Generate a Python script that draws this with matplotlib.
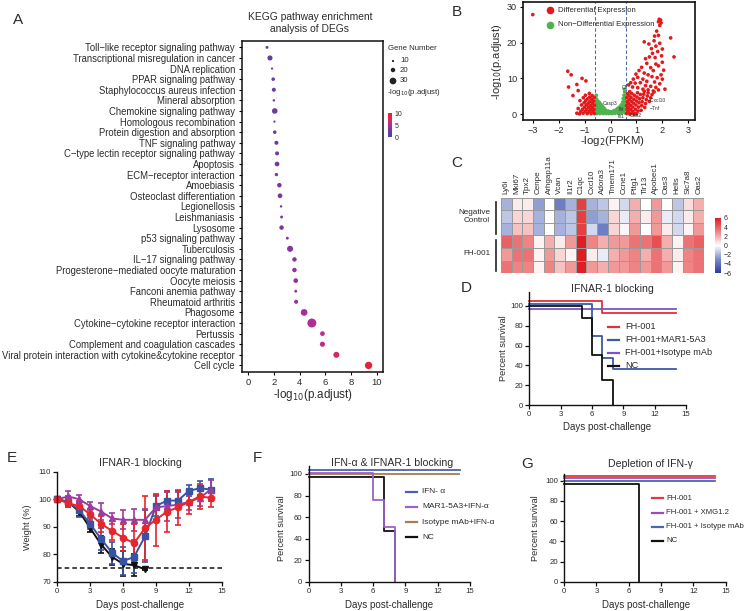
import numpy as np
import matplotlib
matplotlib.use('Agg')
import matplotlib.pyplot as plt
from matplotlib.colors import LinearSegmentedColormap
from matplotlib.lines import Line2D

plt.rcParams['font.family'] = ['Liberation Sans', 'DejaVu Sans']
plt.rcParams['axes.unicode_minus'] = True

# ---------------- DATA ----------------
pathways = [
    "Toll\u2212like receptor signaling pathway", "Transcriptional misregulation in cancer",
    "DNA replication", "PPAR signaling pathway", "Staphylococcus aureus infection",
    "Mineral absorption", "Chemokine signaling pathway", "Homologous recombination",
    "Protein digestion and absorption", "TNF signaling pathway",
    "C\u2212type lectin receptor signaling pathway", "Apoptosis", "ECM\u2212receptor interaction",
    "Amoebiasis", "Osteoclast differentiation", "Legionellosis", "Leishmaniasis", "Lysosome",
    "p53 signaling pathway", "Tuberculosis", "IL\u221217 signaling pathway",
    "Progesterone\u2212mediated oocyte maturation", "Oocyte meiosis", "Fanconi anemia pathway",
    "Rheumatoid arthritis", "Phagosome", "Cytokine\u2212cytokine receptor interaction",
    "Pertussis", "Complement and coagulation cascades",
    "Viral protein interaction with cytokine&cytokine receptor", "Cell cycle"]
kegg_score = [1.47, 1.7, 1.86, 1.95, 2.0, 2.0, 2.07, 2.05, 2.07, 2.2, 2.25, 2.25, 2.2, 2.43,
              2.48, 2.56, 2.6, 2.6, 3.05, 3.26, 3.6, 3.6, 3.7, 3.7, 3.73, 4.35, 4.95, 5.77,
              5.77, 6.85, 9.35]
gene_count = [13, 23, 10, 16, 18, 11, 25, 10, 16, 18, 18, 21, 15, 20, 21, 11, 13, 20, 13, 27,
              20, 20, 21, 13, 18, 30, 40, 21, 23, 27, 33]
legend_counts = [10, 20, 30]

red_x = [-3.0, -1.65, -1.52, -1.1, -1.62, -0.95, -1.3, -1.25, -1.45,
         -0.62, -0.64, -0.62, -0.65, -0.63, -0.68, -0.7, -0.69, -0.72, -0.71, -0.75, -0.77, -0.76,
         -0.79, -0.8, -0.83, -0.84, -0.86, -0.88, -0.9, -0.92, -0.93, -0.96, -0.98, -1.0, -1.02,
         -1.05, -1.06, -1.08, -1.12, -1.15, -1.2, -1.18, -0.82, -0.97, -1.3, -1.25,
         1.88, 1.93, 1.85, 1.95, 1.9, 2.32, 2.45, 1.78, 1.3, 1.48, 1.58, 1.62, 1.82, 1.9, 2.0,
         1.97, 1.72, 1.75, 1.85, 2.05, 1.4, 1.55, 1.65, 1.95, 1.2, 1.1, 1.3, 1.45, 1.6, 1.8,
         0.98, 1.05, 1.25, 1.4, 1.7, 1.9, 2.0, 0.88, 0.95, 1.15, 1.35, 1.55, 1.75, 0.78, 0.7,
         0.85, 1.05, 1.25, 1.45, 1.65, 1.85, 2.1, 1.68, 1.75, 1.7, 1.85, 2.0, 1.5, 1.35,
         0.62, 0.64, 0.62, 0.65, 0.63, 0.66, 0.68, 0.7, 0.69, 0.72, 0.71, 0.74, 0.76, 0.78, 0.77,
         0.8, 0.79, 0.82, 0.85, 0.86, 0.88, 0.9, 0.92, 0.94, 0.96, 0.98, 1.0, 1.02, 1.04, 1.06,
         1.08, 1.1, 1.12, 1.15, 1.18, 1.2, 1.22, 1.25, 1.28, 1.3, 1.32, 1.35, 1.38, 1.42, 1.45,
         1.5, 1.55, 1.6, 1.68, 0.75, 0.9, 1.0]
red_y = [27.8, 12.0, 11.0, 10.0, 7.6, 9.3, 8.3, 6.6, 5.2,
         0.2, 1.3, 2.5, 3.7, 4.7, 0.7, 1.9, 3.1, 4.2, 5.2, 0.2, 1.3, 2.5,
         3.6, 4.8, 0.8, 2.0, 3.1, 4.3, 0.2, 1.4, 2.6, 3.8, 0.8, 2.0, 3.2,
         4.6, 0.3, 1.4, 2.6, 0.8, 0.1, 3.8, 5.8, 5.3, 0.3, 1.6,
         26.5, 26.3, 25.8, 25.5, 24.8, 21.3, 16.0, 23.2, 20.2, 19.6, 18.3, 17.0, 17.5, 19.8, 18.2,
         16.3, 15.8, 14.0, 13.5, 12.3, 14.2, 13.0, 12.2, 11.0, 13.1, 12.2, 11.5, 11.0, 10.5, 10.2,
         11.2, 10.3, 9.8, 9.2, 9.0, 8.5, 9.8, 9.8, 8.7, 8.8, 8.0, 7.8, 7.5, 8.8, 8.2,
         7.6, 7.4, 7.0, 6.8, 6.5, 6.8, 7.0, 20.5, 19.0, 21.8, 22.0, 14.5, 16.0, 15.5,
         0.2, 1.3, 2.4, 3.5, 4.6, 5.7, 0.7, 1.9, 3.0, 4.1, 5.2, 6.3, 0.2, 1.3, 2.5,
         3.6, 4.7, 5.8, 0.8, 2.0, 3.1, 4.2, 5.3, 0.3, 1.4, 2.6, 3.7, 4.8, 6.0, 0.9,
         2.0, 3.2, 4.3, 5.5, 1.1, 2.4, 3.5, 4.6, 5.6, 6.4, 1.9, 3.0, 4.1, 5.1, 6.0,
         3.6, 4.6, 5.5, 6.2, 0.0, 0.0, 0.1]
green_x = [-0.58, -0.57, -0.58, -0.56, -0.57, -0.53, -0.52, -0.51, -0.5, -0.52, -0.47, -0.46,
           -0.45, -0.44, -0.41, -0.4, -0.39, -0.37, -0.35, -0.33, -0.31, -0.29, -0.27, -0.25,
           -0.22, -0.2, -0.17, -0.15, -0.12, -0.09, -0.06, -0.03, 0.0, 0.03, 0.06, 0.09, 0.12,
           0.15, 0.18, 0.21, 0.24, 0.27, 0.3, 0.32, 0.34, 0.37, 0.39, 0.41, 0.43, 0.45, 0.46,
           0.47, 0.49, 0.5, 0.51, 0.52, 0.52, 0.54, 0.55, 0.56, 0.56, 0.57, 0.58, 0.58, 0.53, -0.55]
green_y = [0.4, 1.5, 2.6, 3.6, 4.6, 0.2, 1.1, 2.1, 3.1, 4.0, 0.6, 1.6,
           2.6, 3.4, 0.2, 1.2, 2.1, 2.8, 0.6, 1.5, 2.2, 0.2, 1.0, 1.7,
           0.5, 1.2, 0.2, 0.8, 0.4, 0.9, 0.2, 0.6, 0.3, 0.7, 0.2, 0.8, 0.4,
           1.0, 0.3, 1.2, 0.6, 1.6, 0.3, 1.1, 2.0, 0.7, 1.6, 2.6, 0.3, 1.3, 2.3,
           3.4, 4.4, 0.8, 1.9, 3.0, 5.3, 4.1, 6.2, 0.4, 2.4, 3.5, 5.0, 1.4, 7.0, 5.3]

genes = ["Ly6i", "Mki67", "Tpx2", "Cenpe", "Arhgap11a", "Vcan", "Il1r2", "C1qc", "Cxcl10",
         "Adora3", "Tmem171", "Ccne1", "Pttg1", "Tlr13", "Apobec1", "Oas3", "Hells", "Slc7a8", "Oas2"]
hm_nc1 = [-2, 0.5, 0.5, -2.5, 0, -3.5, -2, 5, -2, -1.5, 0.3, -1, 2, 0, 2.5, 0, -1.5, 0.8, 2]
hm_nc2 = [-1.5, 1, 1, -2, 0, -2, -1.5, 5, -2.5, -2, 1, -0.5, 2, 0.5, 2.5, -0.5, -1, 0.5, 2]
hm_nc3 = [-2, 1.5, 1.5, -2, 0, -2, -1.5, 5, -1, -3.5, 1, 0.2, 2.5, 0, 2.5, 0.5, -1, 0.3, 2.5]
hm_fh1 = [4, 3.5, 3, 0.3, 2, 0.5, 2.5, 6, 3, 2, 2.5, 2.5, 3.5, 3.5, 4.5, 2, 0.3, 3.5, 4]
hm_fh2 = [2.5, 3.5, 3.5, 0.3, 2.5, 1, 0.3, 6, 0.5, -0.5, 2, 2.5, 3, 2, 3.5, 2, 0.5, 3, 3.5]
hm_fh3 = [3.5, 3, 3, 0.3, 3, 1.5, 2.5, 6, 2.5, 2, 2.5, 2.5, 3, 2.5, 3.5, 2.5, 0.3, 3, 3.5]

# D: IFNAR-1 blocking survival
d_fh_days, d_fh = [0, 7, 14], [104.5, 92.5, 92.5]
d_mar_days, d_mar = [0, 6, 7, 8, 14], [101.8, 69.5, 47, 36, 36]
d_iso_days, d_iso = [0, 14], [97.3, 97.3]
d_nc_days, d_nc = [0, 5, 6, 7, 8], [99.4, 87.5, 50, 25, 0]
d_labels = ["FH-001", "FH-001+MAR1-5A3", "FH-001+Isotype mAb", "NC"]

# E: weight
e_days = list(range(15))
e_red = [100, 98.5, 97.5, 94.5, 91, 88.5, 86, 84, 89.5, 92.5, 95.5, 97, 99, 101, 100.5]
e_red_err = [0.5, 1.5, 2, 2, 3, 3.5, 5, 7, 11.5, 9.5, 7.5, 6.5, 4.5, 4.5, 3.5]
e_blue = [100, 99, 96, 91, 85.5, 80.5, 77.5, 79, 86.5, 97.5, 99.5, 99.5, 103, 104, 103.5]
e_blue_err = [0.5, 2, 2.5, 2, 4, 4, 5, 6, 9.5, 3.5, 3, 3, 2, 2.5, 4]
e_purple = [100, 101, 100, 97.5, 95.5, 93, 92.5, 92.5, 92.5, 97, 97.5, 98, 99, 100.5, 103.5]
e_purple_err = [0.5, 2, 1.5, 1.5, 3, 2, 3.5, 4, 4, 4.5, 5.5, 5, 3, 3, 3.5]
e_nc_days = list(range(9))
e_nc = [100, 99, 95.5, 89.5, 83.5, 79, 76.5, 76, 74.5]
e_nc_err = [0.3, 1, 1.5, 1.5, 3, 3, 4.5, 4, 0.3]
e_threshold = 75

# F
f_ifn_days, f_ifn = [0, 14.1], [103.7, 103.7]
f_mar_days, f_mar = [0, 6, 7, 8], [101.2, 76, 51, 0]
f_iso_days, f_iso = [0, 14], [99.7, 99.7]
f_nc_days, f_nc = [0, 7, 8], [97, 47, 0]
f_labels = ["IFN- \u03b1", "MAR1-5A3+IFN-\u03b1", "Isotype mAb+IFN-\u03b1", "NC"]

# G
g_fh_days, g_fh = [0, 14], [104.6, 104.6]
g_xmg_days, g_xmg = [0, 14], [102.5, 102.5]
g_iso_days, g_iso = [0, 14], [100, 100]
g_nc_days, g_nc = [0, 7], [97, 0]
g_labels = ["FH-001", "FH-001 + XMG1.2", "FH-001 + Isotype mAb", "NC"]

# ---------------- FIGURE ----------------
W, H = 750, 611
fig = plt.figure(figsize=(7.5, 6.11), dpi=100)
fig.patch.set_facecolor('white')
TXT = '#2b2b2b'


def ax_px(x0, y0, x1, y1):
    return fig.add_axes([x0 / W, 1 - y1 / H, (x1 - x0) / W, (y1 - y0) / H])


def ftext(x, y, s, **kw):
    kw.setdefault('color', TXT)
    return fig.text(x / W, 1 - y / H, s, **kw)


def fline(x0, y0, x1, y1, color, lw=1.2, **kw):
    fig.add_artist(Line2D([x0 / W, x1 / W], [1 - y0 / H, 1 - y1 / H], color=color, lw=lw,
                          transform=fig.transFigure, **kw))


def prism_axes(ax, xt, yt, fs=5.6):
    for s in ['top', 'right']:
        ax.spines[s].set_visible(False)
    for s in ['left', 'bottom']:
        ax.spines[s].set_linewidth(1.0)
        ax.spines[s].set_color('#111111')
    ax.set_xticks(xt)
    ax.set_yticks(yt)
    ax.tick_params(direction='out', length=3, width=0.9, labelsize=fs, pad=1.5,
                   colors='#111111', labelcolor=TXT)


def manual_legend(x_line, x_text, y0, dy, colors, labels, fs=6.5, lw=1.6):
    for i, (c, l) in enumerate(zip(colors, labels)):
        y = y0 + i * dy
        fline(x_line, y, x_line + 11, y, c, lw=lw)
        ftext(x_text, y, l, fontsize=fs, va='center', ha='left')


# ---- Panel A ----
cmapA = LinearSegmentedColormap.from_list(
    'kegg', [(0, '#4048A8'), (0.25, '#7438A2'), (0.5, '#B42C98'), (0.7, '#D42A62'), (1, '#E8222A')])
sizeA = lambda c: (0.15 * np.asarray(c, float)) ** 2 * 1.15

axA = ax_px(242, 41, 383, 372)
yA = np.arange(len(pathways))
scA = axA.scatter(kegg_score, yA, s=sizeA(gene_count), c=kegg_score, cmap=cmapA, vmin=0, vmax=10,
                  edgecolors='none', zorder=3)
axA.set_xlim(-0.47, 10.47)
axA.set_ylim(30.62, -0.6)
axA.set_yticks(yA)
axA.set_yticklabels(pathways, fontsize=6.85, color=TXT)
axA.set_xticks([0, 2, 4, 6, 8, 10])
axA.tick_params(axis='x', labelsize=6.8, length=2, width=0.8, pad=2, labelcolor=TXT)
axA.tick_params(axis='y', length=2, width=0.8, pad=3)
for s in axA.spines.values():
    s.set_linewidth(1.1)
    s.set_color('#111111')
ftext(313, 395, '-log$_{10}$(p.adjust)', fontsize=8.4, ha='center', va='center')
ftext(310, 23, 'KEGG pathway enrichment\nanalysis of DEGs', fontsize=7.4, ha='center',
      va='center', linespacing=1.35)
ftext(18, 20, 'A', fontsize=11, ha='center', va='center')

axL = ax_px(384, 40, 470, 145)
axL.axis('off')
axL.set_xlim(384, 470)
axL.set_ylim(145, 40)
axL.scatter([393] * 3, [61, 70, 81], s=sizeA(legend_counts), color='#222222', edgecolors='none')
for yy, c in zip([61, 70, 81], legend_counts):
    axL.text(400, yy, str(c), fontsize=5.6, va='center', color=TXT)
ftext(388, 48, 'Gene Number', fontsize=5.6, va='center')
ftext(387, 93, '-log$_{10}$(p.adjust)', fontsize=5.6, va='center')
caxA = ax_px(388, 113, 392, 137)
cbA = fig.colorbar(scA, cax=caxA, ticks=[0, 5, 10])
cbA.outline.set_visible(False)
caxA.tick_params(labelsize=5, length=0, pad=2, labelcolor=TXT)

# ---- Panel B ----
axB = ax_px(522.7, 1.7, 695, 120)
axB.scatter(green_x, green_y, s=7, color='#4DB34F', edgecolors='none', zorder=2)
axB.scatter(red_x, red_y, s=7, color='#E31A1C', edgecolors='none', zorder=3)
axB.axvline(-0.6, color='#4A6FA8', lw=0.8, ls=(0, (3, 2)), zorder=1)
axB.axvline(0.6, color='#4A6FA8', lw=0.8, ls=(0, (3, 2)), zorder=1)
axB.set_xlim(-3.39, 3.26)
axB.set_ylim(-1.6, 31.4)
axB.set_xticks([-3, -2, -1, 0, 1, 2, 3])
axB.set_yticks([0, 10, 20, 30])
axB.tick_params(labelsize=6.6, length=2.5, width=0.8, pad=1.5, labelcolor=TXT)
for s in axB.spines.values():
    s.set_linewidth(1.2)
    s.set_color('#111111')
for gx, gy, gl in [(-0.3, 2.9, 'Casp3'), (1.45, 3.9, '\u2212Cxcl10'), (1.5, 1.5, '\u2212Tnf'),
                   (0.75, -0.4, 'Oas2'), (0.42, 7.6, 'Cfi'), (0.3, 1.3, 'Ifit'), (0.25, -0.5, 'Ifi1')]:
    axB.text(gx, gy, gl, fontsize=3.6, color='#333333', va='center', ha='left', zorder=4)
fig.add_artist(Line2D([550 / W], [1 - 10 / H], marker='o', color='#E31A1C', ms=4.5, ls='',
                      transform=fig.transFigure))
fig.add_artist(Line2D([550 / W], [1 - 25 / H], marker='o', color='#4DB34F', ms=4.5, ls='',
                      transform=fig.transFigure))
ftext(558, 10, 'Differential Expression', fontsize=5.6, va='center')
ftext(558, 25, 'Non\u2212Differential Expression', fontsize=5.6, va='center')
ftext(612, 141, '-log$_{2}$(FPKM)', fontsize=8.2, ha='center', va='center')
ftext(497, 62, '-log$_{10}$(p.adjust)', fontsize=8.0, ha='center', va='center', rotation=90)
ftext(457, 12, 'B', fontsize=11, ha='center', va='center')

# ---- Panel C ----
cmapC = LinearSegmentedColormap.from_list(
    'hm', ['#2A3C9C', '#7A8CCB', '#FFFFFF', '#EE8585', '#E01C24'])
axC = ax_px(501, 198, 704, 273)
hm = np.array([hm_nc1, hm_nc2, hm_nc3, hm_fh1, hm_fh2, hm_fh3])
pm = axC.pcolormesh(hm, cmap=cmapC, vmin=-6, vmax=6, edgecolors='#9a9a9a', linewidth=0.6)
axC.set_ylim(hm.shape[0], 0)
axC.set_xlim(0, hm.shape[1])
axC.xaxis.tick_top()
axC.set_xticks(np.arange(len(genes)) + 0.5)
axC.set_xticklabels(genes, rotation=90, fontsize=5.8, color=TXT)
axC.set_yticks([])
axC.tick_params(length=0, pad=3)
for s in axC.spines.values():
    s.set_visible(False)
caxC = ax_px(715, 218, 721, 273)
cbC = fig.colorbar(pm, cax=caxC, ticks=[-6, -4, -2, 0, 2, 4, 6])
cbC.outline.set_visible(False)
caxC.tick_params(labelsize=5, length=0, pad=2, labelcolor=TXT)
fline(496, 202, 496, 234, '#222222', lw=1.2)
fline(496, 240, 496, 271, '#222222', lw=1.2)
ftext(490, 216, 'Negative\nControl', fontsize=5.9, ha='right', va='center', linespacing=1.2)
ftext(490, 253, 'FH-001', fontsize=5.9, ha='right', va='center')
ftext(457, 163, 'C', fontsize=11, ha='center', va='center')

# ---- Panel D ----
axD = ax_px(529.3, 292, 686, 405)
c_red, c_blue, c_pur = '#E0303A', '#3B5BA5', '#7B55C4'
axD.step(d_fh_days, d_fh, where='post', color=c_red, lw=1.3, clip_on=False)
axD.step(d_iso_days, d_iso, where='post', color=c_pur, lw=1.3, clip_on=False)
axD.step(d_mar_days, d_mar, where='post', color=c_blue, lw=1.3, clip_on=False)
axD.step(d_nc_days, d_nc, where='post', color='#111111', lw=1.3, clip_on=False)
axD.set_xlim(0, 15)
axD.set_ylim(0, 114)
prism_axes(axD, [0, 3, 6, 9, 12, 15], [0, 20, 40, 60, 80, 100])
manual_legend(608, 625, 326.7, 13, [c_red, c_blue, c_pur, '#111111'], d_labels, fs=6.6)
ftext(612, 289, 'IFNAR-1 blocking', fontsize=7.6, ha='center', va='center')
ftext(503, 348, 'Percent survival', fontsize=6.6, ha='center', va='center', rotation=90)
ftext(607, 427, 'Days post-challenge', fontsize=7, ha='center', va='center')
ftext(466, 288, 'D', fontsize=11, ha='center', va='center')

# ---- Panel E ----
axE = ax_px(57.3, 471.7, 221.7, 581.7)
axE.axhline(e_threshold, color='#111111', lw=1.1, ls=(0, (3, 2)), zorder=1)
ekw = dict(lw=1.4, elinewidth=1.2, capsize=2.5, capthick=1.2, clip_on=False)
axE.errorbar(e_nc_days, e_nc, yerr=e_nc_err, color='#111111', marker='v', ms=4, **ekw)
axE.errorbar(e_days, e_blue, yerr=e_blue_err, color='#3953A4', marker='s', ms=4, **ekw)
axE.errorbar(e_days, e_purple, yerr=e_purple_err, color='#9C3D9E', marker='^', ms=4.5, **ekw)
axE.errorbar(e_days, e_red, yerr=e_red_err, color='#E5262A', marker='o', ms=4.5, **ekw)
axE.set_xlim(0, 15)
axE.set_ylim(70, 110)
prism_axes(axE, [0, 3, 6, 9, 12, 15], [70, 80, 90, 100, 110])
ftext(140, 463, 'IFNAR-1 blocking', fontsize=7.6, ha='center', va='center')
ftext(28, 527, 'Weight (%)', fontsize=6.6, ha='center', va='center', rotation=90)
ftext(140, 605, 'Days post-challenge', fontsize=7, ha='center', va='center')
ftext(12, 458, 'E', fontsize=11, ha='center', va='center')

# ---- Panel F ----
axF = ax_px(308.7, 466, 470, 582)
cf_blue, cf_pur, cf_brn = '#4A62AC', '#9E62C4', '#A87C52'
axF.step(f_ifn_days, f_ifn, where='post', color=cf_blue, lw=1.3, clip_on=False)
axF.step(f_iso_days, f_iso, where='post', color=cf_brn, lw=1.3, clip_on=False)
axF.step(f_nc_days, f_nc, where='post', color='#111111', lw=1.3, clip_on=False)
axF.step(f_mar_days, f_mar, where='post', color=cf_pur, lw=1.3, clip_on=False)
axF.set_xlim(0, 15)
axF.set_ylim(0, 107.4)
prism_axes(axF, [0, 3, 6, 9, 12, 15], [0, 20, 40, 60, 80, 100])
manual_legend(405.7, 422, 491.7, 15.2, [cf_blue, cf_pur, cf_brn, '#111111'], f_labels, fs=6.0)
ftext(391.7, 463, 'IFN-\u03b1 & IFNAR-1 blocking', fontsize=7.6, ha='center', va='center')
ftext(281.7, 528, 'Percent survival', fontsize=6.6, ha='center', va='center', rotation=90)
ftext(389, 605, 'Days post-challenge', fontsize=7, ha='center', va='center')
ftext(257, 458, 'F', fontsize=11, ha='center', va='center')

# ---- Panel G ----
axG = ax_px(564, 474, 725.7, 582)
cg_red, cg_pur, cg_blue = '#E03A3E', '#9B4FB0', '#4A68B0'
axG.step(g_fh_days, g_fh, where='post', color=cg_red, lw=1.3, clip_on=False)
axG.step(g_xmg_days, g_xmg, where='post', color=cg_pur, lw=1.3, clip_on=False)
axG.step(g_iso_days, g_iso, where='post', color=cg_blue, lw=1.3, clip_on=False)
axG.step(g_nc_days, g_nc, where='post', color='#111111', lw=1.3, clip_on=False)
axG.set_xlim(0, 15)
axG.set_ylim(0, 106.6)
prism_axes(axG, [0, 3, 6, 9, 12, 15], [0, 20, 40, 60, 80, 100])
manual_legend(651.7, 666.5, 498.3, 14.2, [cg_red, cg_pur, cg_blue, '#111111'], g_labels, fs=5.6)
ftext(650, 464, 'Depletion of IFN-\u03b3', fontsize=7.6, ha='center', va='center')
ftext(535, 528, 'Percent survival', fontsize=6.6, ha='center', va='center', rotation=90)
ftext(646, 605, 'Days post-challenge', fontsize=7, ha='center', va='center')
ftext(527, 464, 'G', fontsize=11, ha='center', va='center')

fig.savefig('out.png', dpi=100, facecolor='white')
